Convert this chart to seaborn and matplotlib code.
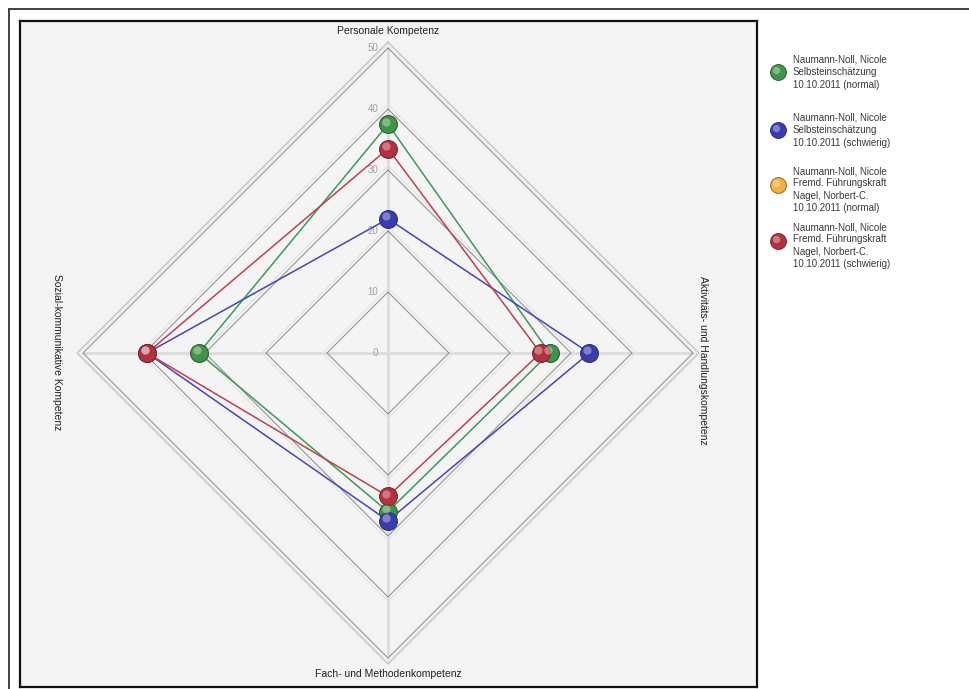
import numpy as np
import pandas as pd
import matplotlib
matplotlib.use("Agg")
import matplotlib.pyplot as plt
from matplotlib.lines import Line2D
import seaborn as sns

# Competence axes, clockwise from the top
categories = [
    "Personale Kompetenz",
    "Aktivitäts- und Handlungskompetenz",
    "Fach- und Methodenkompetenz",
    "Sozial-kommunikative Kompetenz",
]
angles_deg = [90, 0, 270, 180]

series_names = [
    "Naumann-Noll, Nicole\nSelbsteinschätzung\n10.10.2011 (normal)",
    "Naumann-Noll, Nicole\nSelbsteinschätzung\n10.10.2011 (schwierig)",
    "Naumann-Noll, Nicole\nFremd. Führungskraft\nNagel, Norbert-C.\n10.10.2011 (normal)",
    "Naumann-Noll, Nicole\nFremd. Führungskraft\nNagel, Norbert-C.\n10.10.2011 (schwierig)",
]
selbst_normal = [37.5, 26.5, 26.0, 31.0]
selbst_schwierig = [22.0, 33.0, 27.5, 39.5]
fremd_normal = [np.nan, np.nan, np.nan, np.nan]
fremd_schwierig = [33.5, 25.0, 23.5, 39.5]
series_values = [selbst_normal, selbst_schwierig, fremd_normal, fremd_schwierig]

marker_colors = ["#3f9447", "#3b3bb0", "#f4b03e", "#b3323f"]
line_colors = ["#3c9a5a", "#4646b4", "#f4b03e", "#c0404e"]

ring_values = [10, 20, 30, 40, 50]
tick_labels = ["0", "10", "20", "30", "40", "50"]
r_max = 50

sns.set_theme(style="white")
plt.rcParams["font.family"] = ["Liberation Sans", "DejaVu Sans"]

W, H = 970, 689
fig = plt.figure(figsize=(W / 100, H / 100), dpi=100)
fig.patch.set_facecolor("white")

# pixel geometry of the radar panel
cx, cy, unit = 388.0, 353.0, 6.1
px_left, px_right, px_top, px_bottom = 20, 757, 21, 687
ax = fig.add_axes([px_left / W, (H - px_bottom) / H,
                   (px_right - px_left) / W, (px_bottom - px_top) / H])
ax.set_xlim((px_left - cx) / unit, (px_right - cx) / unit)
ax.set_ylim(-(px_bottom - cy) / unit, (cy - px_top) / unit)
ax.set_facecolor("#f4f4f4")
for sp in ax.spines.values():
    sp.set_color("#111111")
    sp.set_linewidth(1.6)
ax.set_xticks([])
ax.set_yticks([])

theta = np.deg2rad(angles_deg)
cos_t, sin_t = np.cos(theta), np.sin(theta)

# spokes
ax.plot([-r_max, r_max], [0, 0], color="#dcdcdc", lw=2.0, zorder=1)
ax.plot([0, 0], [-r_max, r_max], color="#dcdcdc", lw=2.0, zorder=1)

# diamond rings, each with a faint outer shadow line
for r in ring_values:
    xs = np.append(r * cos_t, r * cos_t[0])
    ys = np.append(r * sin_t, r * sin_t[0])
    ro = r + 0.7
    ax.plot(np.append(ro * cos_t, ro * cos_t[0]),
            np.append(ro * sin_t, ro * sin_t[0]),
            color="#e2e2e2", lw=0.8, zorder=1.5)
    ax.plot(xs, ys, color="#8e8e8e", lw=0.75, zorder=2)
outer = r_max + 1.0
ax.plot(np.append(outer * cos_t, outer * cos_t[0]),
        np.append(outer * sin_t, outer * sin_t[0]),
        color="#b8b8b8", lw=0.7, zorder=1.5)

# radial tick labels along the upward axis
for i, lab in enumerate(tick_labels):
    ax.text(-1.6, i * 10, lab, ha="right", va="center",
            fontsize=7, color="#a0a0a0", zorder=3)

# axis titles
ax.text(0, (cy - 31) / unit, categories[0], ha="center", va="center",
        fontsize=7.5, color="#222222")
ax.text(0, -(674 - cy) / unit, categories[2], ha="center", va="center",
        fontsize=7.5, color="#222222")
ax.text((703 - cx) / unit, -(360 - cy) / unit, categories[1], ha="center",
        va="center", rotation=-90, fontsize=7.5, color="#222222")
ax.text((57 - cx) / unit, -(352 - cy) / unit, categories[3], ha="center",
        va="center", rotation=-90, fontsize=7.5, color="#222222")

# series polygons and spherical markers
for name, vals, mc, lc in zip(series_names, series_values, marker_colors, line_colors):
    v = np.array(vals, dtype=float)
    if np.all(np.isnan(v)):
        continue
    df = pd.DataFrame({"x": v * cos_t, "y": v * sin_t})
    closed = pd.concat([df, df.iloc[[0]]], ignore_index=True)
    sns.lineplot(data=closed, x="x", y="y", sort=False, estimator=None,
                 color=lc, lw=1.1, ax=ax, zorder=4)
for vals, mc in zip(series_values, marker_colors):
    v = np.array(vals, dtype=float)
    if np.all(np.isnan(v)):
        continue
    df = pd.DataFrame({"x": v * cos_t, "y": v * sin_t})
    sns.scatterplot(data=df, x="x", y="y", color=mc, s=165,
                    edgecolor=sns.dark_palette(mc, 3)[1], linewidth=0.8,
                    ax=ax, zorder=5)
    sns.scatterplot(x=df["x"] - 0.35, y=df["y"] + 0.45, color="white",
                    s=35, alpha=0.35, linewidth=0, ax=ax, zorder=6)
ax.set_xlabel("")
ax.set_ylabel("")

# overlay in pixel coordinates for legend and outer frame
ov = fig.add_axes([0, 0, 1, 1], facecolor="none")
ov.set_xlim(0, W)
ov.set_ylim(H, 0)
ov.axis("off")
ov.add_line(Line2D([9, 9], [9, H], color="#333333", lw=1.3))
ov.add_line(Line2D([9, W], [9, 9], color="#333333", lw=1.3))

legend_tops = [60, 118, 171, 227]
line_step = 12.3
for name, mc, top in zip(series_names, marker_colors, legend_tops):
    lines = name.split("\n")
    for k, txt in enumerate(lines):
        ov.text(793, top + k * line_step, txt, ha="left", va="center",
                fontsize=7, color="#3a3a3a")
    my = top + line_step if len(lines) == 3 else top + line_step * 1.1
    ov.scatter([778], [my], s=130, color=mc,
               edgecolor=sns.dark_palette(mc, 3)[1], linewidth=0.7, zorder=5)
    ov.scatter([776.5], [my - 2], s=28, color="white", alpha=0.35,
               linewidth=0, zorder=6)

fig.savefig("out.png", dpi=100)
